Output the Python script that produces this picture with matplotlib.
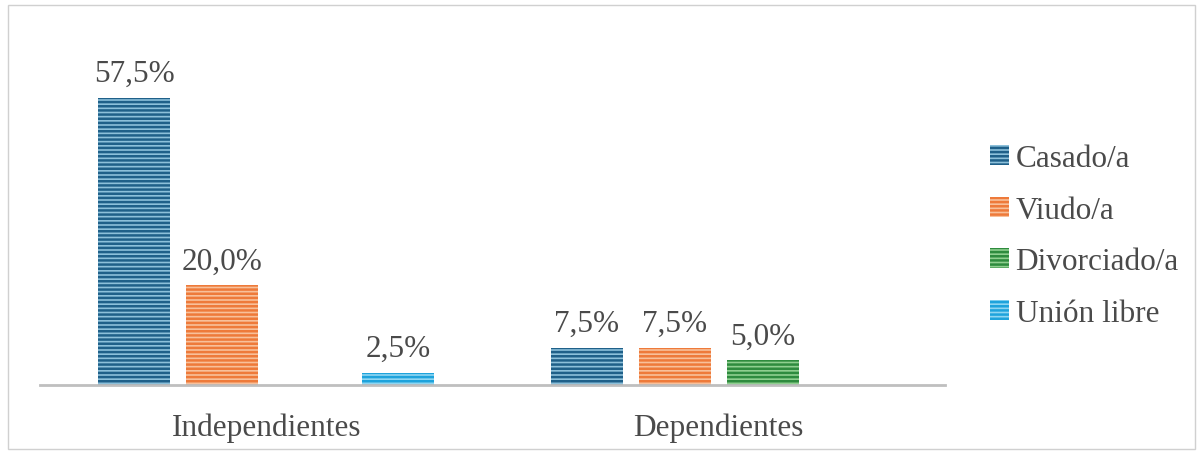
import matplotlib
matplotlib.use("Agg")
import matplotlib.pyplot as plt
import numpy as np
from matplotlib.patches import Rectangle

categories = ["Independientes", "Dependientes"]
series = ["Casado/a", "Viudo/a", "Divorciado/a", "Unión libre"]
values = {
    "Casado/a": [57.5, 7.5],
    "Viudo/a": [20.0, 7.5],
    "Divorciado/a": [0.0, 5.0],
    "Unión libre": [2.5, 0.0],
}
labels = {
    "Casado/a": ["57,5%", "7,5%"],
    "Viudo/a": ["20,0%", "7,5%"],
    "Divorciado/a": ["", "5,0%"],
    "Unión libre": ["2,5%", ""],
}
face = {"Casado/a": "#8cc0da", "Viudo/a": "#f8c09a", "Divorciado/a": "#8fcf8f", "Unión libre": "#8ed6f2"}
edge = {"Casado/a": "#1f6089", "Viudo/a": "#ee7a3a", "Divorciado/a": "#2e8b3e", "Unión libre": "#1ea3dc"}

plt.rcParams['font.family'] = ['Liberation Serif', 'DejaVu Serif']
plt.rcParams['hatch.linewidth'] = 1.8
text_color = "#4a4a4a"
fs = 22.5

fig = plt.figure(figsize=(12.03, 4.56), dpi=100)
fig.patches.append(Rectangle((8/1203, 6/456), 1187/1203, 444/456, transform=fig.transFigure,
                             fill=False, edgecolor="#d0d0d0", linewidth=1))
ax = fig.add_axes([40/1203, (456-386)/456, 905/1203, 350/456])

x = np.arange(len(categories))
w = 72/452.5
step = 88/452.5
for i, s in enumerate(series):
    pos = x + (i - 1.5) * step
    bars = ax.bar(pos, values[s], width=w, color=face[s], edgecolor=edge[s], hatch="----",
                  linewidth=0, label=s)
    for b, v, lab in zip(bars, values[s], labels[s]):
        if lab:
            ax.text(b.get_x() + b.get_width()/2, v + 1.9, lab, ha="center", va="bottom",
                    fontsize=fs, color=text_color)

ax.set_xlim(-0.5, 1.5)
ax.set_ylim(0, 70)
ax.set_yticks([])
ax.set_xticks(x)
ax.set_xticklabels(categories, fontsize=fs, color=text_color)
ax.tick_params(axis="x", length=0, pad=20)
for sp in ["top", "right", "left"]:
    ax.spines[sp].set_visible(False)
ax.spines["bottom"].set_color("#bfbfbf")
ax.spines["bottom"].set_linewidth(2)

leg = fig.legend(loc="center left", bbox_to_anchor=(990/1203, (456-237)/456), frameon=False,
                 fontsize=fs, handlelength=0.62, handleheight=0.62, handletextpad=0.2,
                 labelspacing=0.72, labelcolor=text_color, borderpad=0, borderaxespad=0)

fig.savefig("out.png", dpi=100)
